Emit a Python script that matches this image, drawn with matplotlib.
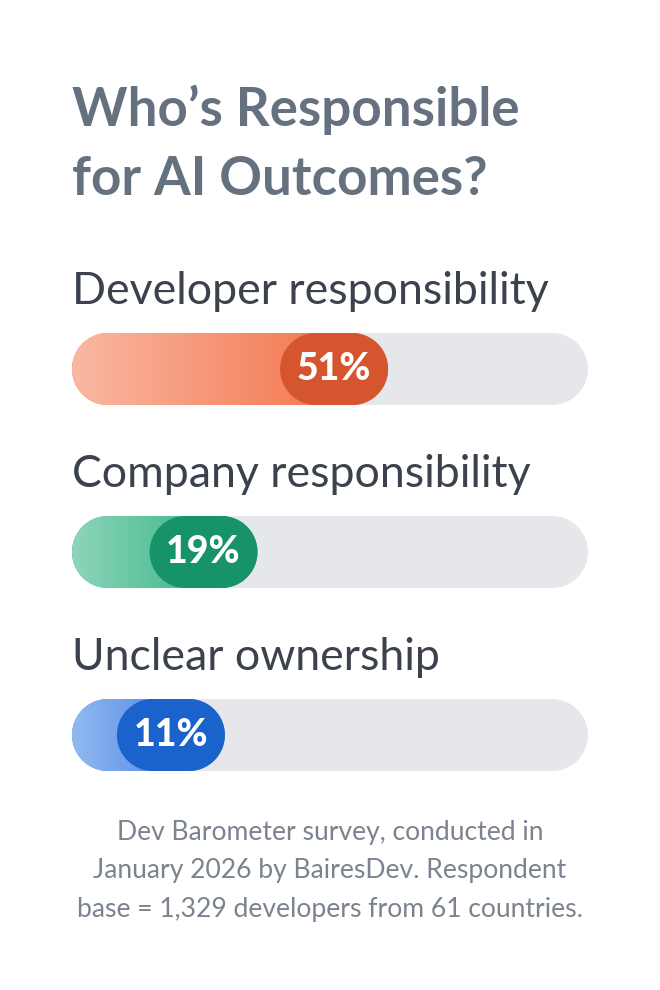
import matplotlib
matplotlib.use("Agg")
import matplotlib.pyplot as plt
import numpy as np
from matplotlib.patches import Polygon
from matplotlib.colors import LinearSegmentedColormap

plt.rcParams['font.family'] = ['Lato', 'DejaVu Sans']

# chart data
title_lines = ["Who’s Responsible", "for AI Outcomes?"]
categories = ["Developer responsibility", "Company responsibility", "Unclear ownership"]
values = [51, 19, 11]
value_labels = ["51%", "19%", "11%"]
footer_lines = [
    "Dev Barometer survey, conducted in",
    "January 2026 by BairesDev. Respondent",
    "base = 1,329 developers from 61 countries.",
]

# colours per bar: gradient start, gradient end, badge
light_colors = ["#FAB8A3", "#8ED5BB", "#92BAF1"]
mid_colors = ["#F47A52", "#45BA8E", "#5A8FE6"]
pill_colors = ["#D5552F", "#17936A", "#1A63CC"]

W, H = 660, 990
fig = plt.figure(figsize=(W / 100, H / 100), dpi=100)
fig.patch.set_facecolor("white")
bg = fig.add_axes([0, 0, 1, 1])
bg.set_xlim(0, W)
bg.set_ylim(H, 0)
bg.axis("off")
renderer = fig.canvas.get_renderer()


def fit(t, target_px):
    w = t.get_window_extent(renderer).width
    t.set_fontsize(t.get_fontsize() * target_px / w)


def stadium(x0, x1, h, **kw):
    # rounded-end bar from x0 to x1, height h (equal-aspect axes)
    r = h / 2
    a = np.linspace(np.pi / 2, 3 * np.pi / 2, 60)
    b = np.linspace(-np.pi / 2, np.pi / 2, 60)
    left_arc = np.column_stack([x0 + r + r * np.cos(a), r + r * np.sin(a)])
    right_arc = np.column_stack([x1 - r + r * np.cos(b), r + r * np.sin(b)])
    return Polygon(np.vstack([left_arc, right_arc]), closed=True, **kw)


# title
for line, y in zip(title_lines, [126, 195]):
    t = bg.text(72, y, line, fontsize=38, fontweight="bold", color="#667180",
                ha="left", va="baseline")
    if line == title_lines[0]:
        fit(t, 447)
        title_size = t.get_fontsize()
    else:
        t.set_fontsize(title_size)

# bars
left, track_w, bar_h, pill_w = 72, 516, 72, 108
tops = [333, 516, 699]
unit = (track_w - pill_w) / 100.0      # pixels per percentage point
P = pill_w / unit
Hd = bar_h / unit
xmax = track_w / unit

label_size = None
for i, (cat, v, lab) in enumerate(zip(categories, values, value_labels)):
    top = tops[i]
    t = bg.text(72, top - 29, cat, fontsize=28, color="#3B424D",
                ha="left", va="baseline")
    if label_size is None:
        fit(t, 477)
        label_size = t.get_fontsize()
    else:
        t.set_fontsize(label_size)

    ax = fig.add_axes([left / W, 1 - (top + bar_h) / H, track_w / W, bar_h / H])
    ax.axis("off")
    ax.add_patch(stadium(0, xmax, Hd, fc="#E6E7EA", ec="none", zorder=1))
    fill = stadium(0, v + P, Hd, fc=mid_colors[i], ec="none", zorder=1.5)
    ax.add_patch(fill)
    cmap = LinearSegmentedColormap.from_list("g%d" % i, [light_colors[i], mid_colors[i]])
    grad = np.linspace(0, 1, 256).reshape(1, -1)
    im = ax.imshow(grad, extent=(0, v + P * 0.4, 0, Hd), aspect="auto", cmap=cmap,
                   interpolation="bicubic", zorder=2)
    im.set_clip_path(fill)
    ax.add_patch(stadium(v, v + P, Hd, fc=pill_colors[i], ec="none", zorder=3))
    ax.text(v + P / 2, Hd / 2, lab, color="white", fontsize=27,
            fontweight="black", ha="center", va="center", zorder=4)
    ax.set_xlim(0, xmax)
    ax.set_ylim(0, Hd)

# footer
fsize = None
for line, y in zip(footer_lines, [840, 878, 917]):
    t = bg.text(330, y, line, fontsize=18, color="#7B838E", ha="center", va="baseline")
    if fsize is None:
        t.set_text(footer_lines[2])
        fit(t, 505)
        fsize = t.get_fontsize()
        t.set_text(line)
    t.set_fontsize(fsize)

fig.savefig("out.png", dpi=100, facecolor="white")
